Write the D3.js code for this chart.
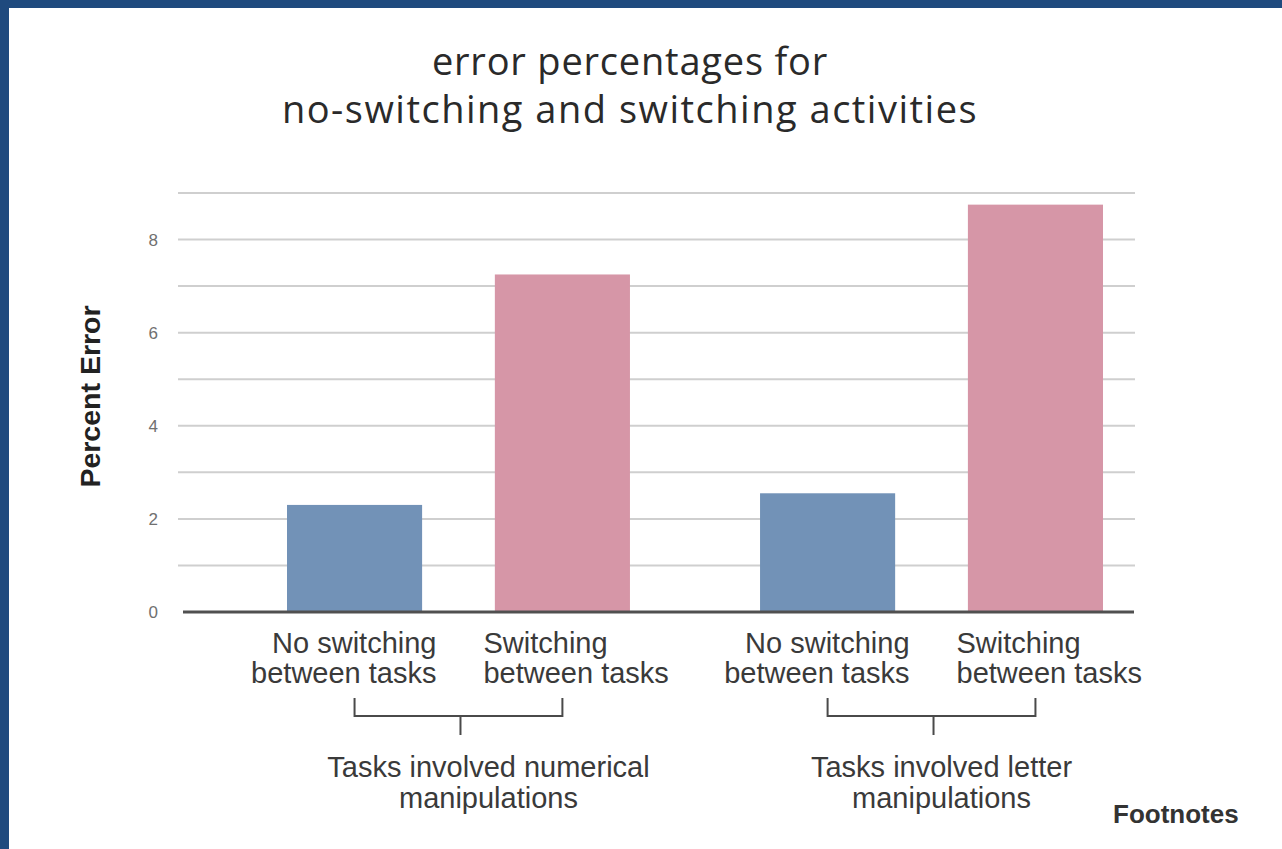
<!DOCTYPE html>
<html>
<head>
<meta charset="utf-8">
<script src="https://cdn.jsdelivr.net/npm/d3@7"></script>
<style>
  html, body { margin: 0; padding: 0; background: #ffffff; overflow: hidden; }
  svg { display: block; }
</style>
</head>
<body>
<svg id="chart" width="1282" height="849"></svg>
<script>
// ---- data ----
const groups = ["Tasks involved numerical manipulations", "Tasks involved letter manipulations"];
const groupLabelLines = [["Tasks involved numerical", "manipulations"], ["Tasks involved letter", "manipulations"]];
const conditions = ["No switching between tasks", "Switching between tasks"];
const conditionLabelLines = [["No switching", "between tasks"], ["Switching", "between tasks"]];
const numericalValues = [2.3, 7.25];
const letterValues = [2.55, 8.75];
const yTicks = [0, 2, 4, 6, 8];
const gridValues = [1, 2, 3, 4, 5, 6, 7, 8, 9];
const titleLines = ["error percentages for", "no-switching and switching activities"];
const yTitle = "Percent Error";
const footnote = "Footnotes";

const seriesByGroup = [numericalValues, letterValues];
const colors = ["#7292b7", "#d696a7"];

const svg = d3.select("#chart");
const W = 1282, H = 849;

// frame
svg.append("rect").attr("x", 0).attr("y", 0).attr("width", W).attr("height", H).attr("fill", "#ffffff");
svg.append("rect").attr("x", 0).attr("y", 0).attr("width", W).attr("height", 8).attr("fill", "#1f4a7e");
svg.append("rect").attr("x", 0).attr("y", 0).attr("width", 9).attr("height", H).attr("fill", "#1f4a7e");

// scales
const y = d3.scaleLinear().domain([0, 9]).range([612, 193]);
const x0 = d3.scaleBand().domain(groups).range([287, 1103]).paddingInner(0.275).paddingOuter(0);
const x1 = d3.scaleBand().domain(conditions).range([0, x0.bandwidth()]).paddingInner(0.35).paddingOuter(0);

const gridLeft = 178, gridRight = 1135;

// gridlines
svg.append("g").selectAll("line").data(gridValues).join("line")
  .attr("x1", gridLeft).attr("x2", gridRight)
  .attr("y1", d => y(d)).attr("y2", d => y(d))
  .attr("stroke", "#cfcfcf").attr("stroke-width", 2);

// y axis labels
const yAxis = d3.axisLeft(y).tickValues(yTicks).tickSize(0).tickPadding(0).tickFormat(d3.format("d"));
const yg = svg.append("g").attr("transform", "translate(158,0)").call(yAxis);
yg.select(".domain").remove();
yg.selectAll("text").attr("font-family", "Liberation Sans, Arial, sans-serif").attr("font-size", 17).attr("fill", "#707070");

// y title
svg.append("text")
  .attr("transform", `translate(100,${(y(0) + y(9)) / 2 - 6}) rotate(-90)`)
  .attr("text-anchor", "middle")
  .attr("font-family", "Liberation Sans, Arial, sans-serif")
  .attr("font-weight", "bold").attr("font-size", 28.5).attr("fill", "#222")
  .text(yTitle);

// bars
const gBars = svg.append("g");
groups.forEach((g, gi) => {
  gBars.selectAll(null).data(seriesByGroup[gi]).join("rect")
    .attr("x", (d, i) => x0(g) + x1(conditions[i]))
    .attr("width", x1.bandwidth())
    .attr("y", d => y(d))
    .attr("height", d => y(0) - y(d))
    .attr("fill", (d, i) => colors[i]);
});

// baseline
svg.append("line").attr("x1", 183).attr("x2", 1134).attr("y1", y(0)).attr("y2", y(0))
  .attr("stroke", "#505050").attr("stroke-width", 3);

// category labels
const labelFont = "Liberation Sans, Arial, sans-serif";
groups.forEach((g, gi) => {
  const gc = x0(g) + x0.bandwidth() / 2;
  conditionLabelLines.forEach((lines, ci) => {
    const t = svg.append("text")
      .attr("font-family", labelFont).attr("font-size", 29).attr("fill", "#3a3a3a")
      .attr("text-anchor", ci === 0 ? "end" : "start");
    const xx = ci === 0 ? gc - 22 : gc + 25;
    lines.forEach((ln, li) => {
      t.append("tspan").attr("x", xx).attr("y", 653 + li * 30).text(ln);
    });
  });
  // bracket
  const cA = x0(g) + x1(conditions[0]) + x1.bandwidth() / 2;
  const cB = x0(g) + x1(conditions[1]) + x1.bandwidth() / 2;
  const by = 716;
  svg.append("path")
    .attr("d", `M${cA},698 V${by} H${cB} V698 M${gc + 2},${by} V735`)
    .attr("fill", "none").attr("stroke", "#4a4a4a").attr("stroke-width", 2);
  // group label
  const gl = svg.append("text")
    .attr("font-family", labelFont).attr("font-size", 29).attr("fill", "#3a3a3a")
    .attr("text-anchor", "middle");
  groupLabelLines[gi].forEach((ln, li) => {
    gl.append("tspan").attr("x", gc + (gi === 0 ? 30 : 10)).attr("y", 777 + li * 31).text(ln);
  });
});

// title (two separate lines)
const titleSpacing = [0.8, 1.5];
titleLines.forEach((ln, i) => {
  svg.append("text")
    .attr("x", 630).attr("y", 75 + i * 48)
    .attr("font-family", "Open Sans, Noto Sans, sans-serif").attr("font-size", 38)
    .attr("letter-spacing", titleSpacing[i])
    .attr("fill", "#2a2a2a").attr("text-anchor", "middle")
    .text(ln);
});

// footnote
svg.append("text").attr("x", 1113).attr("y", 823)
  .attr("font-family", labelFont).attr("font-weight", "bold").attr("font-size", 26)
  .attr("fill", "#333").text(footnote);
</script>
</body>
</html>
